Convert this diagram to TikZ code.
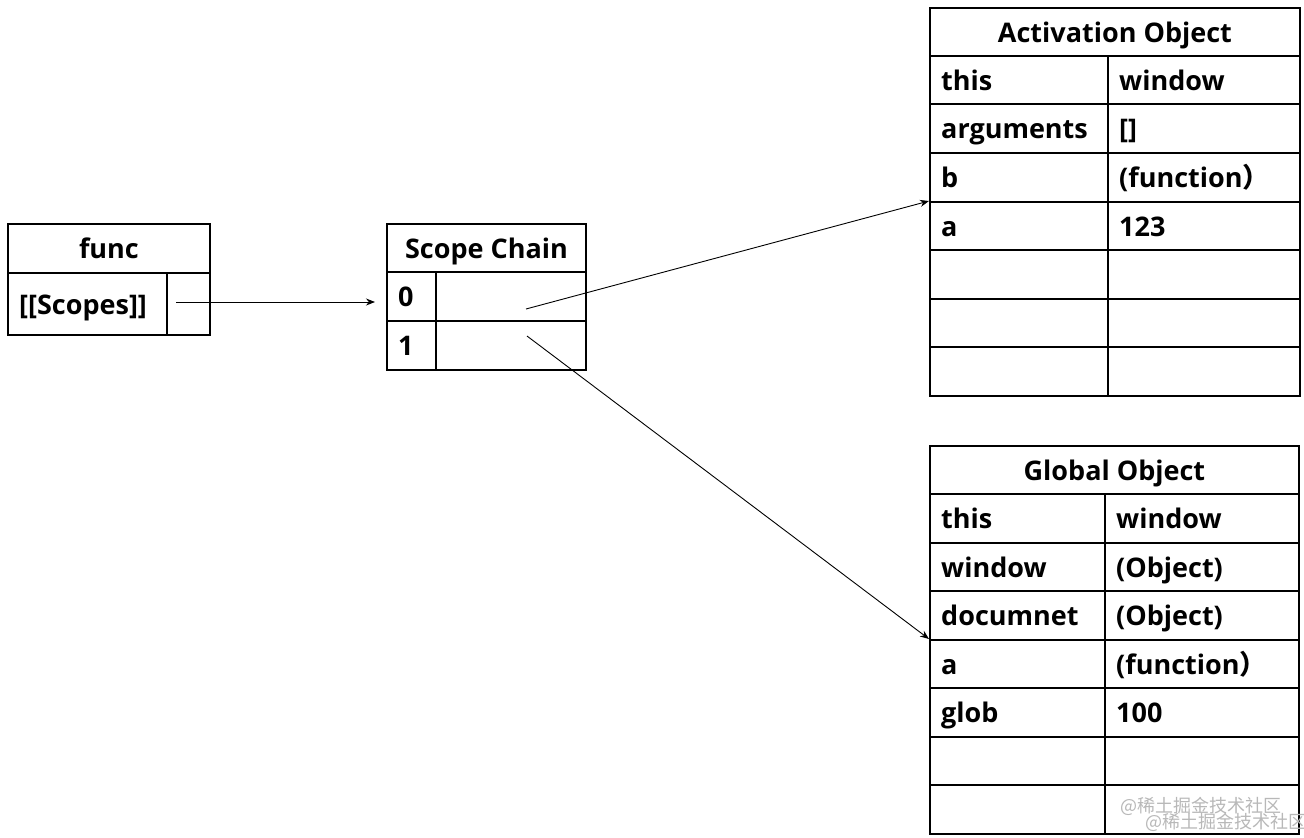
\documentclass[tikz,border=0pt]{standalone}
\usepackage{fontspec}
\setmainfont{Open Sans}
\newfontfamily\cjk{Noto Sans CJK SC}
\usetikzlibrary{arrows.meta}
\tikzset{
  cell/.style={draw, line width=1.9pt, inner sep=0pt, anchor=north west},
  txt/.style={font=\bfseries\fontsize{27}{30}\selectfont, inner sep=0pt, anchor=base west},
  htxt/.style={font=\bfseries\fontsize{27}{30}\selectfont, inner sep=0pt, anchor=base},
  link/.style={line width=0.9pt, -{Stealth[length=9pt,width=7pt]}},
  wmark/.style={font=\cjk\fontsize{18}{20}\selectfont, text=black!28, inner sep=0pt, anchor=base west}
}
% #1 name, #2 y1, #3 y2, #4 xl, #5 xm, #6 xr, #7 key, #8 value
\newcommand\tabrow[8]{%
  \node[cell, minimum width={#5-#4}, minimum height={#3-#2}] (#1k) at (#4,#2) {};
  \node[cell, minimum width={#6-#5}, minimum height={#3-#2}] (#1v) at (#5,#2) {};
  \node[txt] (#1kt) at ([xshift=12pt,yshift=-10.5pt]#1k.west) {#7};
  \node[txt] (#1vt) at ([xshift=12pt,yshift=-10.5pt]#1v.west) {#8};
}
% #1 name, #2 y1, #3 y2, #4 xl, #5 xr, #6 text
\newcommand\tabhead[6]{%
  \node[cell, minimum width={#5-#4}, minimum height={#3-#2}] (#1) at (#4,#2) {};
  \node[htxt] (#1t) at ([yshift=-10.5pt]#1.center) {#6};
}
\begin{document}
\begin{tikzpicture}[x=1pt, y=-1pt]
\useasboundingbox[fill=white] (0,0) rectangle (1304,838);

% func
\tabhead{fh}{223}{272}{7}{209}{func}
\tabrow{f1}{272}{334}{7}{166}{209}{[[Scopes]]}{}

% Scope Chain
\tabhead{sh}{223}{271}{386}{585}{Scope Chain}
\tabrow{s1}{271}{320}{386}{435}{585}{0}{}
\tabrow{s2}{320}{369}{386}{435}{585}{1}{}

% Activation Object
\tabhead{ah}{7}{55}{929}{1299}{Activation Object}
\tabrow{a1}{55}{103}{929}{1107}{1299}{this}{window}
\tabrow{a2}{103}{152}{929}{1107}{1299}{arguments}{[]}
\tabrow{a3}{152}{201}{929}{1107}{1299}{b}{(function{\cjk\bfseries ）}}
\tabrow{a4}{201}{249}{929}{1107}{1299}{a}{123}
\tabrow{a5}{249}{298}{929}{1107}{1299}{}{}
\tabrow{a6}{298}{346}{929}{1107}{1299}{}{}
\tabrow{a7}{346}{395}{929}{1107}{1299}{}{}

% Global Object
\tabhead{gh}{445}{493}{929}{1298}{Global Object}
\tabrow{g1}{493}{542}{929}{1104}{1298}{this}{window}
\tabrow{g2}{542}{590}{929}{1104}{1298}{window}{(Object)}
\tabrow{g3}{590}{639}{929}{1104}{1298}{documnet}{(Object)}
\tabrow{g4}{639}{687}{929}{1104}{1298}{a}{(function{\cjk\bfseries ）}}
\tabrow{g5}{687}{736}{929}{1104}{1298}{glob}{100}
\tabrow{g6}{736}{784}{929}{1104}{1298}{}{}
\tabrow{g7}{784}{833}{929}{1104}{1298}{}{}

% connectors
\coordinate (fs) at (176,302);
\coordinate (ft) at (375,302);
\coordinate (s0) at (526,309);
\coordinate (s1p) at (527,336);
\draw[link] (fs) -- (ft);
\draw[link] (s0) -- (a4k.north west);
\draw[link] (s1p) -- (g4k.north west);

% watermark
\node[wmark] (wm1) at (1120,812) {@稀土掘金技术社区};
\node[wmark] (wm2) at (1145,828) {@稀土掘金技术社区};
\end{tikzpicture}
\end{document}
